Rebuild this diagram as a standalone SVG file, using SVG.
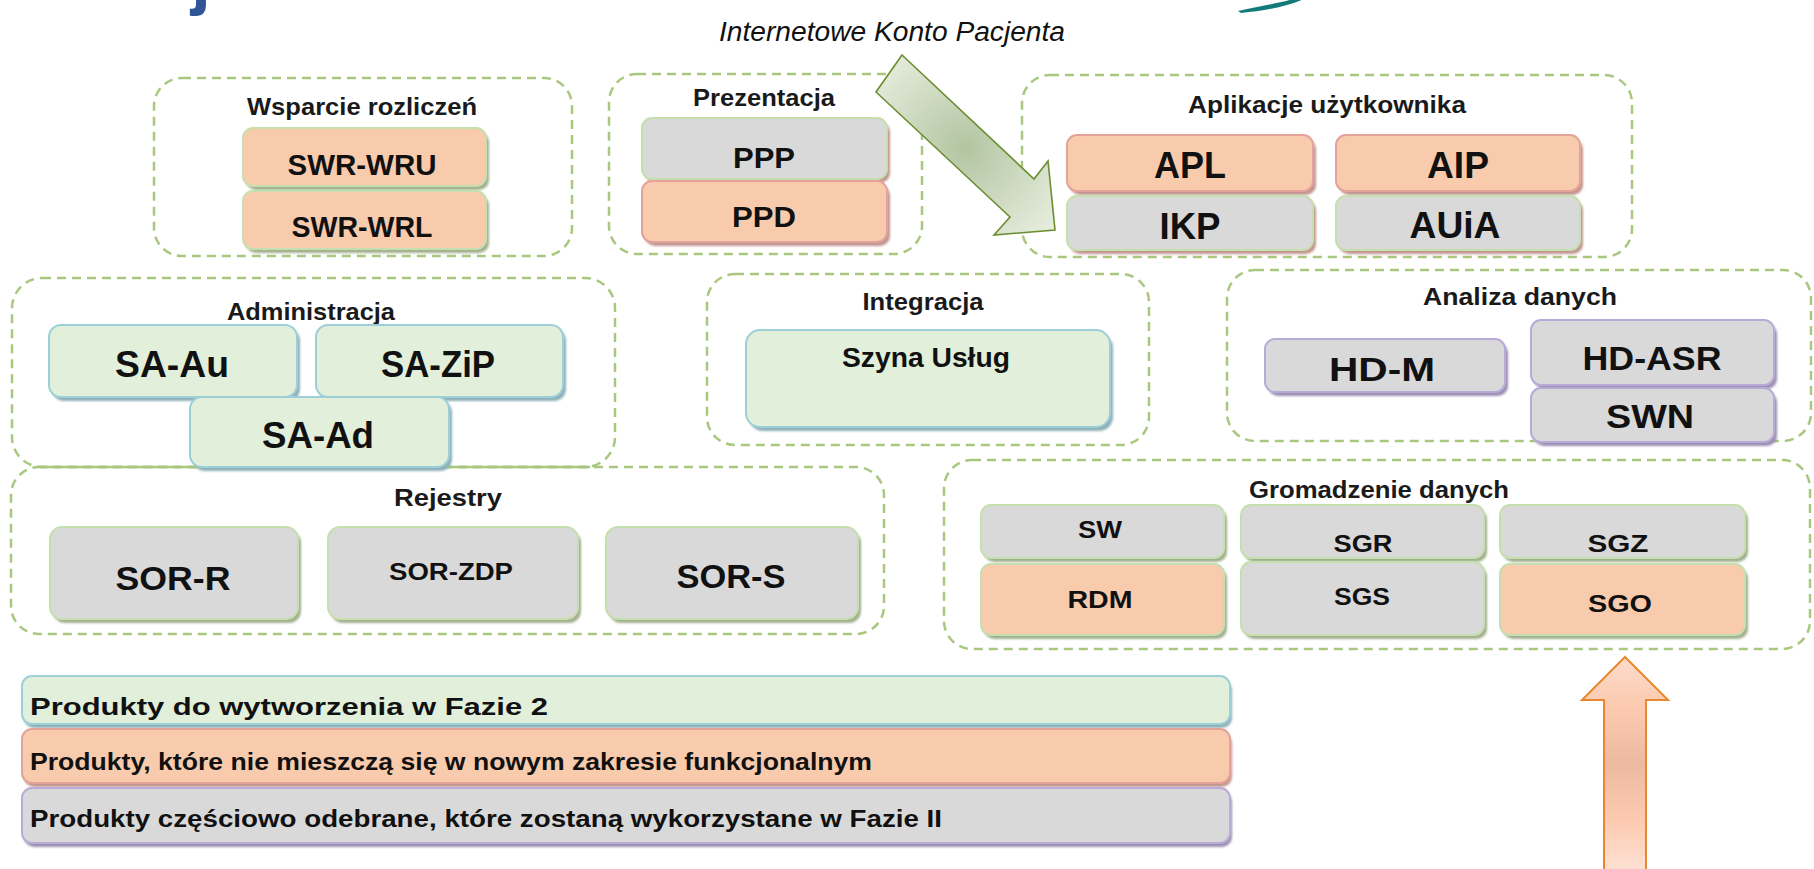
<svg xmlns="http://www.w3.org/2000/svg" width="1814" height="869" viewBox="0 0 1814 869">
<style>
.grp{fill:none;stroke:#a9c77f;stroke-width:2.5;stroke-dasharray:9 6}
.grpS{fill:none;stroke:#a9c77f;stroke-width:2.5}
.o{fill:#f8cbad}.g{fill:#d9d9d9}.gr{fill:#e2efda}
.bG{stroke:#c6dfae;stroke-width:2}.bR{stroke:#e3a39b;stroke-width:2}.bB{stroke:#9dcfd8;stroke-width:2}.bP{stroke:#b9abd8;stroke-width:2}
.sG{fill:#a2b08f}.sR{fill:#c29690}.sB{fill:#8eb0b8}.sP{fill:#9c90b2}
.sh{filter:url(#blur)}
.t{font-family:"Liberation Sans",Arial,sans-serif;font-weight:bold;fill:#111;text-anchor:middle}
.tt{font-family:"Liberation Sans",Arial,sans-serif;font-weight:bold;fill:#1a1a1a;text-anchor:middle;font-size:24px}
.lg{font-family:"Liberation Sans",Arial,sans-serif;font-weight:bold;fill:#111;font-size:23px}
</style>
<defs>
<filter id="blur" x="-10%" y="-20%" width="120%" height="140%"><feGaussianBlur stdDeviation="1.3"/></filter>
<radialGradient id="gArrow" gradientUnits="userSpaceOnUse" cx="965" cy="148" r="115">
<stop offset="0" stop-color="#b2c5a1"/><stop offset="1" stop-color="#e6ecdd"/>
</radialGradient>
<linearGradient id="oArrow" gradientUnits="userSpaceOnUse" x1="0" y1="657" x2="0" y2="869">
<stop offset="0" stop-color="#fddccb"/><stop offset="0.22" stop-color="#fccbb1"/><stop offset="0.5" stop-color="#ebbaa0"/><stop offset="0.78" stop-color="#fccbb1"/><stop offset="1" stop-color="#fde0d2"/>
</linearGradient>
</defs>
<rect width="1814" height="869" fill="#ffffff"/>

<g id="title-fragment">
<text x="191" y="1" font-family="Liberation Sans, Arial, sans-serif" font-weight="bold" font-size="72" fill="#2f5597">j</text>
<path d="M1238,11 C1256,7 1280,3 1297,-2 L1306,-2 C1290,6 1264,11 1241,13 Z" fill="#137a7a"/>
</g>

<text x="892" y="41" font-family="Liberation Sans, Arial, sans-serif" font-style="italic" font-size="27" fill="#111" text-anchor="middle" textLength="346" lengthAdjust="spacingAndGlyphs">Internetowe Konto Pacjenta</text>

<!-- groups -->
<g id="grp-wsparcie">
<rect class="grp" x="154" y="78" width="418" height="178" rx="28"/>
<text class="tt" x="362" y="115" textLength="230" lengthAdjust="spacingAndGlyphs">Wsparcie rozliczeń</text>
</g>
<g id="grp-prezentacja">
<rect class="grp" x="609" y="74" width="313" height="180" rx="28"/>
<text class="tt" x="764" y="106" textLength="142" lengthAdjust="spacingAndGlyphs">Prezentacja</text>
</g>
<g id="grp-aplikacje">
<rect class="grp" x="1022" y="75" width="610" height="182" rx="28"/>
<text class="tt" x="1327" y="113" textLength="278" lengthAdjust="spacingAndGlyphs">Aplikacje  użytkownika</text>
</g>
<g id="grp-administracja">
<rect class="grp" x="12" y="278" width="603" height="189" rx="30"/>
<text class="tt" x="311" y="320" textLength="168" lengthAdjust="spacingAndGlyphs">Administracja</text>
</g>
<g id="grp-integracja">
<rect class="grp" x="707" y="274" width="442" height="171" rx="28"/>
<text class="tt" x="923" y="310" textLength="121" lengthAdjust="spacingAndGlyphs">Integracja</text>
</g>
<g id="grp-analiza">
<rect class="grp" x="1227" y="270" width="584" height="171" rx="28"/>
<text class="tt" x="1520" y="305" textLength="194" lengthAdjust="spacingAndGlyphs">Analiza  danych</text>
</g>
<g id="grp-rejestry">
<rect class="grp" x="11" y="467" width="873" height="167" rx="28"/>
<path class="grpS" d="M40,467 H590"/>
<text class="tt" x="448" y="506" textLength="108" lengthAdjust="spacingAndGlyphs">Rejestry</text>
</g>
<g id="grp-gromadzenie">
<rect class="grp" x="944" y="460" width="866" height="189" rx="28"/>
<text class="tt" x="1379" y="498" textLength="260" lengthAdjust="spacingAndGlyphs">Gromadzenie danych</text>
</g>

<!-- nodes -->
<g id="SWR-WRU">
<rect class="sG sh" x="246" y="132" width="243" height="58" rx="10"/>
<rect class="o bG" x="243" y="128" width="243" height="58" rx="10"/>
<text class="t" x="362" y="175" font-size="29" textLength="149" lengthAdjust="spacingAndGlyphs">SWR-WRU</text>
</g>
<g id="SWR-WRL">
<rect class="sG sh" x="246" y="195" width="243" height="58" rx="10"/>
<rect class="o bG" x="243" y="191" width="243" height="58" rx="10"/>
<text class="t" x="362" y="237" font-size="29" textLength="141" lengthAdjust="spacingAndGlyphs">SWR-WRL</text>
</g>
<g id="PPP">
<rect class="sR sh" x="645" y="122" width="245" height="61" rx="10"/>
<rect class="g bG" x="642" y="118" width="245" height="61" rx="10"/>
<text class="t" x="764" y="168" font-size="30" textLength="62" lengthAdjust="spacingAndGlyphs">PPP</text>
</g>
<g id="PPD">
<rect class="sR sh" x="645" y="185" width="245" height="61" rx="10"/>
<rect class="o bR" x="642" y="181" width="245" height="61" rx="10"/>
<text class="t" x="764" y="227" font-size="30" textLength="64" lengthAdjust="spacingAndGlyphs">PPD</text>
</g>
<g id="APL">
<rect class="sR sh" x="1070" y="139" width="246" height="56" rx="10"/>
<rect class="o bR" x="1067" y="135" width="246" height="56" rx="10"/>
<text class="t" x="1190" y="178" font-size="36" textLength="72" lengthAdjust="spacingAndGlyphs">APL</text>
</g>
<g id="AIP">
<rect class="sR sh" x="1339" y="139" width="244" height="56" rx="10"/>
<rect class="o bR" x="1336" y="135" width="244" height="56" rx="10"/>
<text class="t" x="1458" y="178" font-size="36" textLength="62" lengthAdjust="spacingAndGlyphs">AIP</text>
</g>
<g id="IKP">
<rect class="sR sh" x="1070" y="200" width="246" height="54" rx="10"/>
<rect class="g bG" x="1067" y="196" width="246" height="54" rx="10"/>
<text class="t" x="1190" y="239" font-size="36" textLength="61" lengthAdjust="spacingAndGlyphs">IKP</text>
</g>
<g id="AUiA">
<rect class="sR sh" x="1339" y="200" width="244" height="54" rx="10"/>
<rect class="g bG" x="1336" y="196" width="244" height="54" rx="10"/>
<text class="t" x="1455" y="238" font-size="36" textLength="91" lengthAdjust="spacingAndGlyphs">AUiA</text>
</g>
<g id="SA-Au">
<rect class="sB sh" x="52" y="329" width="248" height="72" rx="12"/>
<rect class="gr bB" x="49" y="325" width="248" height="72" rx="12"/>
<text class="t" x="172" y="377" font-size="36" textLength="114" lengthAdjust="spacingAndGlyphs">SA-Au</text>
</g>
<g id="SA-ZiP">
<rect class="sB sh" x="319" y="329" width="247" height="72" rx="12"/>
<rect class="gr bB" x="316" y="325" width="247" height="72" rx="12"/>
<text class="t" x="438" y="377" font-size="36" textLength="114" lengthAdjust="spacingAndGlyphs">SA-ZiP</text>
</g>
<g id="SA-Ad">
<rect class="sB sh" x="193" y="401" width="259" height="70" rx="12"/>
<rect class="gr bB" x="190" y="397" width="259" height="70" rx="12"/>
<text class="t" x="318" y="448" font-size="36" textLength="112" lengthAdjust="spacingAndGlyphs">SA-Ad</text>
</g>
<g id="Szyna-Uslug">
<rect class="sB sh" x="749" y="334" width="364" height="97" rx="14"/>
<rect class="gr bB" x="746" y="330" width="364" height="97" rx="14"/>
<text class="t" x="926" y="367" font-size="27" textLength="168" lengthAdjust="spacingAndGlyphs">Szyna Usług</text>
</g>
<g id="HD-M">
<rect class="sP sh" x="1268" y="343" width="240" height="53" rx="10"/>
<rect class="g bP" x="1265" y="339" width="240" height="53" rx="10"/>
<text class="t" x="1382" y="381" font-size="34" textLength="106" lengthAdjust="spacingAndGlyphs">HD-M</text>
</g>
<g id="HD-ASR">
<rect class="sP sh" x="1534" y="324" width="243" height="65" rx="10"/>
<rect class="g bP" x="1531" y="320" width="243" height="65" rx="10"/>
<text class="t" x="1652" y="370" font-size="34" textLength="139" lengthAdjust="spacingAndGlyphs">HD-ASR</text>
</g>
<g id="SWN">
<rect class="sP sh" x="1534" y="392" width="243" height="54" rx="10"/>
<rect class="g bP" x="1531" y="388" width="243" height="54" rx="10"/>
<text class="t" x="1650" y="428" font-size="34" textLength="88" lengthAdjust="spacingAndGlyphs">SWN</text>
</g>
<g id="SOR-R">
<rect class="sG sh" x="53" y="531" width="248" height="92" rx="12"/>
<rect class="g bG" x="50" y="527" width="248" height="92" rx="12"/>
<text class="t" x="173" y="590" font-size="33" textLength="115" lengthAdjust="spacingAndGlyphs">SOR-R</text>
</g>
<g id="SOR-ZDP">
<rect class="sG sh" x="331" y="531" width="250" height="92" rx="12"/>
<rect class="g bG" x="328" y="527" width="250" height="92" rx="12"/>
<text class="t" x="451" y="580" font-size="24" textLength="124" lengthAdjust="spacingAndGlyphs">SOR-ZDP</text>
</g>
<g id="SOR-S">
<rect class="sG sh" x="609" y="531" width="252" height="92" rx="12"/>
<rect class="g bG" x="606" y="527" width="252" height="92" rx="12"/>
<text class="t" x="731" y="588" font-size="33" textLength="109" lengthAdjust="spacingAndGlyphs">SOR-S</text>
</g>
<g id="SW">
<rect class="sG sh" x="984" y="509" width="243" height="53" rx="10"/>
<rect class="g bG" x="981" y="505" width="243" height="53" rx="10"/>
<text class="t" x="1100" y="538" font-size="24" textLength="44" lengthAdjust="spacingAndGlyphs">SW</text>
</g>
<g id="RDM">
<rect class="sG sh" x="984" y="568" width="243" height="71" rx="10"/>
<rect class="o bG" x="981" y="564" width="243" height="71" rx="10"/>
<text class="t" x="1100" y="608" font-size="24" textLength="65" lengthAdjust="spacingAndGlyphs">RDM</text>
</g>
<g id="SGR">
<rect class="sG sh" x="1244" y="509" width="243" height="53" rx="10"/>
<rect class="g bG" x="1241" y="505" width="243" height="53" rx="10"/>
<text class="t" x="1363" y="552" font-size="24" textLength="59" lengthAdjust="spacingAndGlyphs">SGR</text>
</g>
<g id="SGS">
<rect class="sG sh" x="1244" y="566" width="243" height="73" rx="10"/>
<rect class="g bG" x="1241" y="562" width="243" height="73" rx="10"/>
<text class="t" x="1362" y="605" font-size="24" textLength="56" lengthAdjust="spacingAndGlyphs">SGS</text>
</g>
<g id="SGZ">
<rect class="sG sh" x="1503" y="509" width="245" height="53" rx="10"/>
<rect class="g bG" x="1500" y="505" width="245" height="53" rx="10"/>
<text class="t" x="1618" y="552" font-size="24" textLength="61" lengthAdjust="spacingAndGlyphs">SGZ</text>
</g>
<g id="SGO">
<rect class="sG sh" x="1503" y="568" width="245" height="71" rx="10"/>
<rect class="o bG" x="1500" y="564" width="245" height="71" rx="10"/>
<text class="t" x="1620" y="612" font-size="24" textLength="64" lengthAdjust="spacingAndGlyphs">SGO</text>
</g>

<!-- legend -->
<g id="legend-green">
<rect class="sB sh" x="24" y="680" width="1208" height="48" rx="10"/>
<rect class="gr bB" x="22" y="676" width="1208" height="48" rx="10"/>
<text class="lg" x="30" y="715" textLength="518" lengthAdjust="spacingAndGlyphs">Produkty do wytworzenia w Fazie 2</text>
</g>
<g id="legend-orange">
<rect class="sR sh" x="24" y="733" width="1208" height="54" rx="10"/>
<rect class="o bR" x="22" y="729" width="1208" height="54" rx="10"/>
<text class="lg" x="30" y="770" textLength="842" lengthAdjust="spacingAndGlyphs">Produkty, które nie mieszczą się w nowym zakresie funkcjonalnym</text>
</g>
<g id="legend-gray">
<rect class="sP sh" x="24" y="792" width="1208" height="55" rx="10"/>
<rect class="g bP" x="22" y="788" width="1208" height="55" rx="10"/>
<text class="lg" x="30" y="827" textLength="912" lengthAdjust="spacingAndGlyphs">Produkty częściowo odebrane, które zostaną wykorzystane  w Fazie II</text>
</g>

<!-- connectors -->
<g id="connectors">
<polygon points="902,55 1034,179 1048,161 1055,230 994,235 1010,217 876,92" fill="url(#gArrow)" stroke="#6a8d2f" stroke-width="1.6" stroke-linejoin="miter"/>
<polygon points="1625,657 1668,700 1646,700 1646,872 1604,872 1604,700 1582,700" fill="url(#oArrow)" stroke="#e8882e" stroke-width="2"/>
</g>
</svg>
